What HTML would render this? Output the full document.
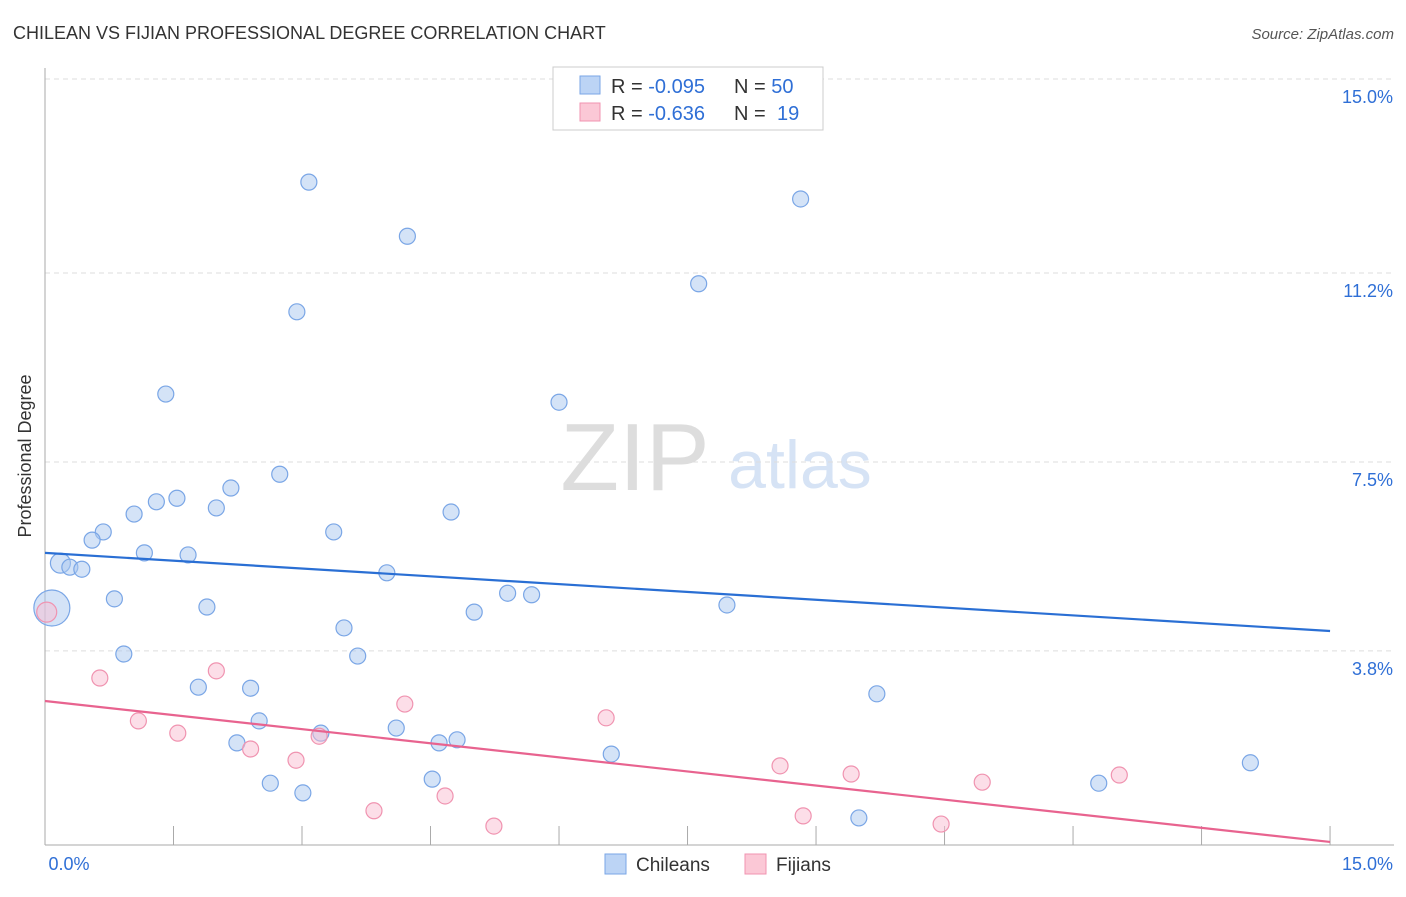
<!DOCTYPE html>
<html><head><meta charset="utf-8"><style>
body{margin:0;background:#fff;font-family:"Liberation Sans",sans-serif;}
svg text{font-family:"Liberation Sans",sans-serif;}
</style></head><body>
<svg id="chart" width="1406" height="892">
<text x="13" y="39" font-size="18" fill="#333">CHILEAN VS FIJIAN PROFESSIONAL DEGREE CORRELATION CHART</text>
<text x="1394" y="39" font-size="15" fill="#555" font-style="italic" text-anchor="end">Source: ZipAtlas.com</text>
<text x="31" y="456" font-size="18" fill="#333" text-anchor="middle" transform="rotate(-90 31 456)">Professional Degree</text>
<g><text x="635" y="490" font-size="96" fill="#ddd" font-family="Liberation Serif" text-anchor="middle">ZIP</text><text x="800" y="488" font-size="68" fill="#d6e3f5" text-anchor="middle">atlas</text></g>
<g id="grid"></g><g id="axes"></g><g id="pts"></g><g id="trend"></g>
<g>
<rect x="553" y="67" width="270" height="63" fill="#fff" stroke="#ccc"/>
<rect x="580" y="76" width="20" height="18" fill="#bcd4f5" stroke="#7aa6e6"/>
<rect x="580" y="103" width="20" height="18" fill="#fbc8d6" stroke="#f093b0"/>
<text x="611" y="93" font-size="20" fill="#333">R = <tspan fill="#2f6fd6">-0.095</tspan><tspan x="734">N = </tspan><tspan fill="#2f6fd6">50</tspan></text>
<text x="611" y="120" font-size="20" fill="#333">R = <tspan fill="#2f6fd6">-0.636</tspan><tspan x="734">N = </tspan><tspan x="777" fill="#2f6fd6">19</tspan></text>
</g>
<g>
<rect x="605" y="854" width="21" height="20" fill="#bcd4f5" stroke="#7aa6e6"/><text x="636" y="871" font-size="19" fill="#333">Chileans</text>
<rect x="745" y="854" width="21" height="20" fill="#fbc8d6" stroke="#f093b0"/><text x="776" y="871" font-size="19" fill="#333">Fijians</text>
</g>
</svg>
<script>
const yTicks=[15.0,11.2,7.5,3.8];
const yTickLabels=["15.0%","11.2%","7.5%","3.8%"];
const xLabels=["0.0%","15.0%"];
const chileX=[3.08,8.82,4.23,7.63,2.94,1.41,6.00,2.74,2.17,1.54,1.30,1.04,2.00,4.74,0.68,3.37,0.55,1.16,1.67,0.18,0.29,0.43,3.99,5.40,5.68,0.81,1.89,7.96,5.01,0.08,3.49,0.92,3.65,1.79,2.40,9.71,2.50,3.22,4.10,2.24,4.60,4.81,6.61,14.07,4.52,2.63,12.30,3.01,9.50];
const chileY=[12.98,12.65,11.92,10.99,10.44,8.83,8.67,7.26,6.99,6.79,6.72,6.48,6.60,6.52,6.13,6.13,5.97,5.72,5.68,5.52,5.44,5.40,5.33,4.93,4.90,4.82,4.66,4.70,4.56,4.64,4.25,3.74,3.70,3.09,3.07,2.96,2.43,2.19,2.29,2.00,2.00,2.06,1.78,1.61,1.29,1.21,1.21,1.02,0.53];
const chileR=[8,8,8,8,8,8,8,8,8,8,8,8,8,8,8,8,8,8,8,10,8,8,8,8,8,8,8,8,8,18,8,8,8,8,8,8,8,8,8,8,8,8,8,8,8,8,8,8,8];
const fijiX=[0.02,0.64,2.00,1.09,1.55,4.20,6.55,2.40,3.20,2.93,8.58,9.41,10.94,12.54,4.67,3.84,8.85,5.24,10.46];
const fijiY=[4.56,3.27,3.41,2.43,2.19,2.76,2.49,1.88,2.13,1.66,1.55,1.39,1.23,1.37,0.96,0.67,0.57,0.37,0.41];
const chileTrend=[5.72,4.19];
const fijiTrend=[2.82,0.06];
const X=v=>45+v*85.67, Y=v=>845-v*51.07;
const NS="http://www.w3.org/2000/svg";
function mk(p,t,a){const e=document.createElementNS(NS,t);for(const k in a)e.setAttribute(k,a[k]);document.getElementById(p).appendChild(e);return e;}
yTicks.forEach((t,i)=>{
 const l=mk('grid','line',{x1:45,x2:1394,y1:Y(t),y2:Y(t),stroke:'#ddd','stroke-dasharray':'5,4'});
 
 
 const tx=mk('grid','text',{x:1393,y:Y(t)+24,'font-size':18,fill:'#2f6fd6','text-anchor':'end'});
 tx.textContent=yTickLabels[i];
 
 
});
const ax=mk('axes','line',{x1:45,x2:45,y1:68,y2:845,stroke:'#aaa'});


const bx=mk('axes','line',{x1:45,x2:1394,y1:845,y2:845,stroke:'#aaa'});


for(let i=1;i<=10;i++){const t=mk('axes','line',{x1:X(i*1.5),x2:X(i*1.5),y1:826,y2:845,stroke:'#aaa'});
 
 }
[[X(0)+24,xLabels[0]],[1393,xLabels[1]]].forEach((d,i)=>{const t=mk('axes','text',{x:d[0],y:870,'font-size':18,fill:'#2f6fd6','text-anchor':'middle'});if(i)t.setAttribute('text-anchor','end');t.textContent=d[1];
 
 });
chileX.forEach((v,i)=>{const c=mk('pts','circle',{cx:X(v),cy:Y(chileY[i]),r:chileR[i],fill:'rgba(170,200,240,0.5)',stroke:'#7aa6e6','stroke-width':1.2});
 
 });
fijiX.forEach((v,i)=>{const c=mk('pts','circle',{cx:X(v),cy:Y(fijiY[i]),r:i==0?10:8,fill:'rgba(250,190,210,0.5)',stroke:'#f093b0','stroke-width':1.2});
 
 });
const t1=mk('trend','line',{x1:X(0),x2:X(15),y1:Y(chileTrend[0]),y2:Y(chileTrend[1]),stroke:'#2a6fd4','stroke-width':2.2});


const t2=mk('trend','line',{x1:X(0),x2:X(15),y1:Y(fijiTrend[0]),y2:Y(fijiTrend[1]),stroke:'#e8638f','stroke-width':2.2});


</script>
</body></html>
